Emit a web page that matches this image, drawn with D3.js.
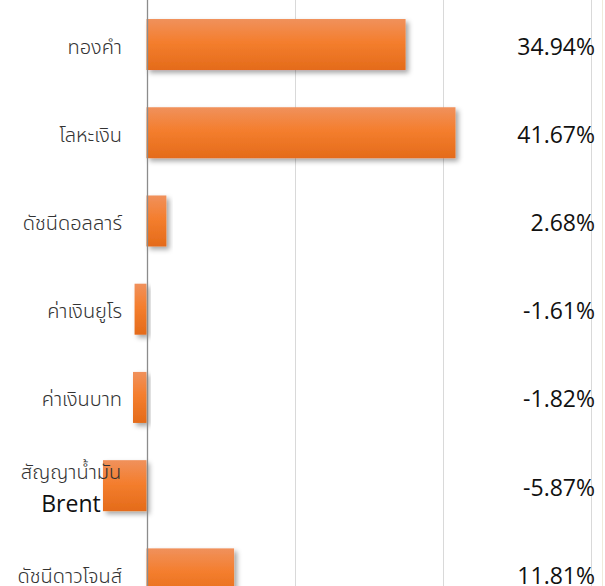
<!DOCTYPE html>
<html>
<head>
<meta charset="utf-8">
<script src="https://cdn.jsdelivr.net/npm/d3@7/dist/d3.min.js"></script>
<style>
  html, body { margin: 0; padding: 0; background: #fff; }
  svg { display: block; }
</style>
</head>
<body>
<div id="chart"></div>
<script>
const categories = ["ทองคำ", "โลหะเงิน", "ดัชนีดอลลาร์", "ค่าเงินยูโร", "ค่าเงินบาท", "สัญญาน้ำมัน Brent", "ดัชนีดาวโจนส์"];
const values = [34.94, 41.67, 2.68, -1.61, -1.82, -5.87, 11.81];
const valueLabels = ["34.94%", "41.67%", "2.68%", "-1.61%", "-1.82%", "-5.87%", "11.81%"];
const gridTicks = [-20, 0, 20, 40, 60];

const W = 605, H = 586;
const svg = d3.select("#chart").append("svg").attr("width", W).attr("height", H);

const defs = svg.append("defs");
const grad = defs.append("linearGradient").attr("id", "barGrad")
  .attr("x1", 0).attr("y1", 0).attr("x2", 0).attr("y2", 1);
grad.append("stop").attr("offset", "0%").attr("stop-color", "#F0915C");
grad.append("stop").attr("offset", "45%").attr("stop-color", "#F47E2E");
grad.append("stop").attr("offset", "100%").attr("stop-color", "#E46B1A");

const filt = defs.append("filter").attr("id", "shadow")
  .attr("x", "-20%").attr("y", "-20%").attr("width", "150%").attr("height", "160%");
filt.append("feDropShadow").attr("dx", 3).attr("dy", 3).attr("stdDeviation", 2.5)
  .attr("flood-color", "#000").attr("flood-opacity", 0.35);

const x = d3.scaleLinear().domain([-20, 60]).range([146.5 - 148.3, 146.5 + 3 * 148.3]);
const y = d3.scaleBand().domain(categories).range([0.4, 618]).paddingInner(0.422).paddingOuter(0.211);

// gridlines
svg.append("g").selectAll("line").data(gridTicks.filter(t => t !== 0)).join("line")
  .attr("x1", d => Math.round(x(d)) + 0.5).attr("x2", d => Math.round(x(d)) + 0.5)
  .attr("y1", 0).attr("y2", H)
  .attr("stroke", "#d9d9d9").attr("stroke-width", 1);

// right faint border
svg.append("line").attr("x1", 602.5).attr("x2", 602.5).attr("y1", 0).attr("y2", H)
  .attr("stroke", "#efeadb").attr("stroke-width", 1);

// bars
svg.append("g").selectAll("rect").data(values).join("rect")
  .attr("x", d => x(Math.min(0, d)))
  .attr("width", d => Math.abs(x(d) - x(0)))
  .attr("y", (d, i) => y(categories[i]))
  .attr("height", y.bandwidth())
  .attr("fill", "url(#barGrad)")
  .attr("filter", "url(#shadow)");

// zero axis
svg.append("line").attr("x1", Math.round(x(0)) + 0.5).attr("x2", Math.round(x(0)) + 0.5)
  .attr("y1", 0).attr("y2", H).attr("stroke", "#8c8c8c").attr("stroke-width", 1.3);

// category labels
const thaiFont = "'Noto Sans Thai', 'Noto Sans', sans-serif";
const catG = svg.append("g");
categories.forEach((c, i) => {
  const cy = y(c) + y.bandwidth() / 2;
  const parts = c.split(" ");
  if (parts.length === 1) {
    catG.append("text").attr("x", 122).attr("y", cy + 2).attr("dy", "0.35em")
      .attr("text-anchor", "end")
      .style("font-family", thaiFont).style("font-weight", 300)
      .style("font-size", "20px").attr("fill", "#333").text(c);
  } else {
    catG.append("text").attr("x", 71).attr("y", cy - 14).attr("dy", "0.35em")
      .attr("text-anchor", "middle")
      .style("font-family", thaiFont).style("font-weight", 300)
      .style("font-size", "20px").attr("fill", "#333").text(parts[0]);
    catG.append("text").attr("x", 71).attr("y", cy + 18).attr("dy", "0.35em")
      .attr("text-anchor", "middle")
      .style("font-family", "'Open Sans', 'Noto Sans', sans-serif")
      .style("font-size", "23px").attr("fill", "#111").text(parts[1]);
  }
});

// value labels
svg.append("g").selectAll("text").data(valueLabels).join("text")
  .attr("x", 595)
  .attr("y", (d, i) => y(categories[i]) + y.bandwidth() / 2 + 2)
  .attr("dy", "0.35em")
  .attr("text-anchor", "end")
  .style("font-family", "'Open Sans', 'Noto Sans', sans-serif")
  .style("font-size", "23px").attr("fill", "#111")
  .text(d => d);
</script>
</body>
</html>
